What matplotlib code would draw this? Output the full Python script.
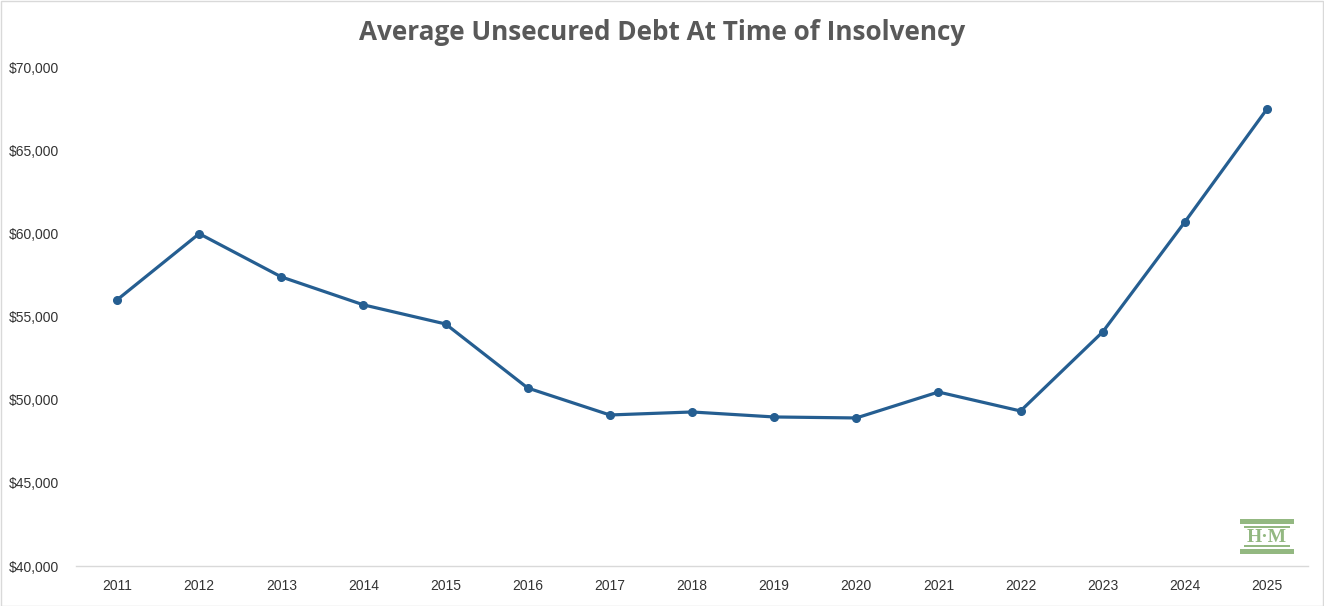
import matplotlib
matplotlib.use("Agg")
import matplotlib.pyplot as plt
from matplotlib.ticker import FuncFormatter, MultipleLocator
from matplotlib.patches import Rectangle

years = ["2011", "2012", "2013", "2014", "2015", "2016", "2017", "2018",
         "2019", "2020", "2021", "2022", "2023", "2024", "2025"]
avg_debt = [56000, 59980, 57380, 55700, 54550, 50700, 49080, 49260,
            48960, 48900, 50460, 49320, 54070, 60680, 67470]
title = "Average Unsecured Debt At Time of Insolvency"

fig = plt.figure(figsize=(13.24, 6.06), dpi=100)
fig.patch.set_facecolor("white")
# outer border
fig.add_artist(Rectangle((0.5/1324, 0.5/606), 1 - 1.5/1324, 1 - 1.5/606,
                         transform=fig.transFigure, fill=False,
                         edgecolor="#d9d9d9", linewidth=1))

ax = fig.add_axes([76/1324, 1 - 566/606, (1308 - 76)/1324, (566 - 67)/606])
x = list(range(len(years)))
ax.plot(x, avg_debt, color="#255e91", linewidth=2.3, marker="o",
        markersize=5.5, solid_capstyle="round")
ax.set_xlim(-0.5, len(years) - 0.5)
ax.set_ylim(40000, 70000)
ax.yaxis.set_major_locator(MultipleLocator(5000))
ax.yaxis.set_major_formatter(FuncFormatter(lambda v, p: f"${v:,.0f}"))
ax.set_xticks(x)
ax.set_xticklabels(years)
for s in ["top", "right", "left"]:
    ax.spines[s].set_visible(False)
ax.spines["bottom"].set_color("#d9d9d9")
ax.spines["bottom"].set_linewidth(1)
ax.tick_params(axis="both", length=0, labelsize=10, labelcolor="#333333")
ax.tick_params(axis="x", pad=9)
for lab in ax.get_xticklabels() + ax.get_yticklabels():
    lab.set_family("Liberation Sans")
for lab in ax.get_yticklabels():
    lab.set_horizontalalignment("left")
ax.yaxis.set_tick_params(pad=(76 - 9) * 0.72)

fig.text(0.5, 1 - 32/606, title, ha="center", va="center", fontsize=18.8,
         fontweight="bold", color="#595959", family="Open Sans")

# logo
g = "#93b881"
def frect(x0, y0, x1, y1):
    fig.add_artist(Rectangle((x0/1324, 1 - y1/606), (x1 - x0)/1324, (y1 - y0)/606,
                             transform=fig.transFigure, facecolor=g,
                             edgecolor="none"))
frect(1240, 519, 1294, 524)
frect(1244, 526, 1290, 528)
frect(1244, 545, 1290, 547)
frect(1240, 549, 1294, 554)
fig.text(1267/1324, 1 - 537/606, "H\u00b7M", ha="center", va="center",
         fontsize=14, fontweight="bold", color=g, family="Liberation Serif")

fig.savefig("out.png", dpi=100, facecolor="white")
